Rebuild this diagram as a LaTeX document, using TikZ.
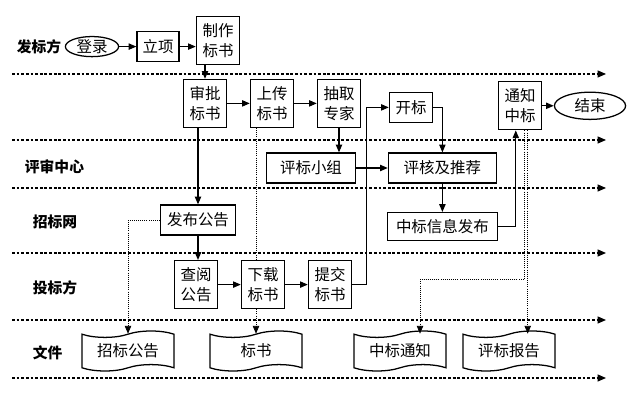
\documentclass[tikz,border=0pt]{standalone}
\usepackage{fontspec}
\setmainfont{Noto Sans CJK SC}
\usepackage{tikz}
\usetikzlibrary{shapes.geometric, shapes.symbols, arrows.meta, positioning, calc, backgrounds}

\begin{document}
\begin{tikzpicture}[
    node distance=1.675cm,
    font=\fontsize{11pt}{14pt}\selectfont,
    box/.style={rectangle, minimum width=1.08cm, minimum height=1.2cm, inner sep=1pt, text centered, align=center, draw=black, line width=0.9pt, fill=white},
    flat/.style={rectangle, minimum height=0.75cm, inner sep=1pt, text centered, draw=black, line width=0.9pt, fill=white},
    term/.style={ellipse, inner sep=0pt, text centered, draw=black, line width=0.9pt, fill=white},
    paper/.style={tape, tape bend top=in and out, tape bend bottom=in and out, tape bend height=0.16cm, minimum width=2.3cm, minimum height=1cm, inner sep=1pt, draw=black, line width=0.9pt, fill=white},
    lane/.style={anchor=west, font=\fontsize{10.5pt}{13pt}\selectfont\bfseries},
    swim/.style={line width=0.8pt, dash pattern=on 2pt off 1.3pt, -{Triangle[length=6pt,width=5pt]}},
    arrow/.style={line width=0.8pt, -{Triangle[length=5.5pt,width=4.5pt]}},
    link/.style={line width=0.5pt, densely dotted, -{Triangle[length=5.5pt,width=4.5pt]}}
]

\useasboundingbox (0,0) rectangle (16,10.025);

% swim lanes
\foreach \y in {8.175, 6.525, 5.325, 3.7, 2.025, 0.575}
    \draw [swim] (0.3,\y) -- (15.15,\y);

\node [lane] (lfa) at (0.3,8.85) {发标方};
\node [lane] (lping) at (0.5,5.865) {评审中心};
\node [lane] (lwang) at (0.7,4.49) {招标网};
\node [lane] (ltou) at (0.7,2.84) {投标方};
\node [lane] (lwen) at (0.7,1.2) {文件};

% process steps
\node [term, minimum width=1.33cm, minimum height=0.5cm] (denglu) at (2.3,8.86) {登录};
\node [flat, minimum width=1.05cm] (lixiang) at (3.95,8.86) {立项};
\node [box] (zhizuo) at (5.45,9.01) {制作\\标书};
\node [box] (shenpi) at (5.125,7.44) {审批\\标书};
\node [box, right of=shenpi] (shangchuan) {上传\\标书};
\node [box, right of=shangchuan] (chouqu) {抽取\\专家};
\node [flat, minimum width=1.08cm] (kaibiao) at (10.275,7.34) {开标};
\node [box] (tongzhi) at (13.0,7.38) {通知\\中标};
\node [term, minimum width=1.78cm, minimum height=0.68cm] (jieshu) at (14.75,7.38) {结束};
\node [flat, minimum width=2.22cm] (xiaozu) at (7.775,5.825) {评标小组};
\node [flat, minimum width=2.7cm] (pinghe) at (11.06,5.825) {评核及推荐};
\node [flat, minimum width=2.75cm, minimum height=0.7cm] (xinxi) at (11.06,4.36) {中标信息发布};
\node [flat, minimum width=1.88cm] (fabu) at (4.95,4.525) {发布公告};
\node [box] (chayue) at (4.9,2.91) {查阅\\公告};
\node [box, right of=chayue] (xiazai) {下载\\标书};
\node [box, right of=xiazai] (tijiao) {提交\\标书};

% documents
\node [paper] (zbgg) at (3.2,1.25) {招标公告};
\node [paper] (biaoshu) at (6.4,1.25) {标书};
\node [paper] (zbtz) at (10.0,1.25) {中标通知};
\node [paper] (pbbg) at (12.725,1.25) {评标报告};

\draw [arrow] (denglu) -- (lixiang);
\draw [arrow] (lixiang.east) -- (lixiang.east -| zhizuo.west);
\draw [arrow] (zhizuo.south -| shenpi.north) -- (shenpi.north);
\draw [arrow] (shenpi) -- (shangchuan);
\draw [arrow] (shangchuan) -- (chouqu);
\draw [arrow] (chouqu) -- (chouqu |- xiaozu.north);
\draw [arrow] (xiaozu) -- (pinghe);
\draw [arrow] (tijiao.east) -- ++(0.35,0) |- (kaibiao.west);
\draw [arrow] (kaibiao.east) -| (pinghe.north);
\draw [arrow] (pinghe) -- (xinxi);
\draw [arrow] (xinxi.east) -| ([xshift=-3pt]tongzhi.south);
\draw [arrow] (tongzhi) -- (jieshu);
\draw [arrow] (shenpi.south -| fabu.north) -- (fabu.north);
\draw [arrow] (fabu) -- (fabu |- chayue.north);
\draw [arrow] (chayue) -- (xiazai);
\draw [arrow] (xiazai) -- (tijiao);

% document links
\coordinate (turn) at (10.5,3.04);
\draw [link] (fabu.west) -| (zbgg.north);
\begin{scope}[on background layer]
\draw [line width=0.5pt, densely dotted] (biaoshu.north |- shangchuan.south) -- (biaoshu.north |- xiazai.north);
\end{scope}
\draw [link] (biaoshu.north |- xiazai.south) -- (biaoshu.north);
\draw [link] ([xshift=3pt]tongzhi.south) |- (turn) -- (turn |- zbtz.north);
\draw [link] ([xshift=5.5pt]tongzhi.south) -- ([xshift=5.5pt]tongzhi.south |- pbbg.north);

\end{tikzpicture}
\end{document}
